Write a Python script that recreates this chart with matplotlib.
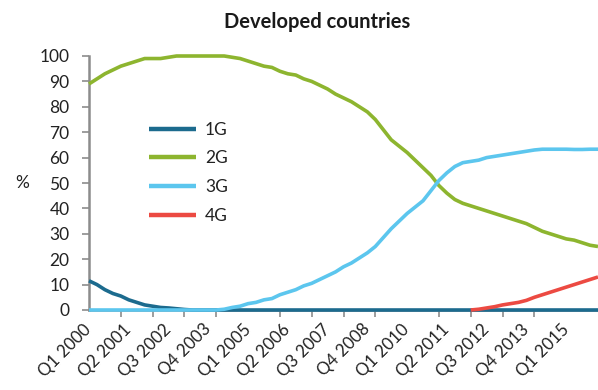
import numpy as np
import matplotlib
matplotlib.use("Agg")
import matplotlib.pyplot as plt
from matplotlib.transforms import ScaledTranslation

plt.rcParams['font.family'] = ['Lato', 'DejaVu Sans']

# Quarterly share of mobile subscriptions by technology, Q1 2000 .. Q1 2016
quarters = [f"Q{q} {y}" for y in range(2000, 2017) for q in range(1, 5)][:65]

g1 = [11.5, 10, 8, 6.5, 5.5, 4, 3, 2, 1.5, 1, 0.8, 0.5, 0.2, 0, 0, 0,
      0, 0, 0, 0, 0, 0, 0, 0, 0, 0, 0, 0, 0, 0, 0, 0,
      0, 0, 0, 0, 0, 0, 0, 0, 0, 0, 0, 0, 0, 0, 0, 0,
      0, 0, 0, 0, 0, 0, 0, 0, 0, 0, 0, 0, 0, 0, 0, 0, 0]

g2 = [89, 91, 93, 94.5, 96, 97, 98, 99, 99, 99, 99.5, 100, 100, 100, 100, 100,
      100, 100, 99.5, 99, 98, 97, 96, 95.5, 94, 93, 92.5, 91, 90, 88.5, 87, 85,
      83.5, 82, 80, 78, 75, 71, 67, 64.5, 62, 59, 56, 53, 49, 46, 43.5, 42,
      41, 40, 39, 38, 37, 36, 35, 34, 32.5, 31, 30, 29, 28, 27.5, 26.5, 25.5, 25]

g3 = [0, 0, 0, 0, 0, 0, 0, 0, 0, 0, 0, 0, 0, 0, 0, 0,
      0, 0.3, 1, 1.5, 2.5, 3, 4, 4.5, 6, 7, 8, 9.5, 10.5, 12, 13.5, 15,
      17, 18.5, 20.5, 22.5, 25, 28.5, 32, 35, 38, 40.5, 43, 47, 51, 54, 56.5, 58,
      58.5, 59, 60, 60.5, 61, 61.5, 62, 62.5, 63, 63.3, 63.3, 63.3, 63.3, 63.2, 63.2, 63.3, 63.3]

g4 = [np.nan] * 48 + [0, 0.3, 0.8, 1.3, 2, 2.5, 3, 3.8, 5, 6, 7, 8, 9, 10, 11, 12, 13]

series = [("1G", g1, "#1c6b8e"),
          ("2G", g2, "#8db52f"),
          ("3G", g3, "#5cc6ee"),
          ("4G", g4, "#ec4a42")]

fig = plt.figure(figsize=(5.98, 3.90), dpi=100)
ax = fig.add_axes([89 / 598, 1 - 310 / 390, 1 - 89 / 598, (310 - 56) / 390])

x = np.arange(len(quarters))
for name, vals, col in series:
    ax.plot(x, vals, color=col, lw=2.6, label=name, clip_on=False,
            solid_capstyle='butt', zorder=3)

ax.set_xlim(0, 64)
ax.set_ylim(0, 100)
ax.set_yticks(range(0, 101, 10))

# labels every 5 quarters, tick marks every 4 quarters
ax.set_xticks(x[::5][:13])
ax.set_xticklabels(quarters[::5][:13], rotation=45, ha='right',
                   rotation_mode='anchor', fontsize=12.2, color='#222222')
shift = ScaledTranslation(3 / 72, 0, fig.dpi_scale_trans)
for lbl in ax.get_xticklabels():
    lbl.set_va('center')
    lbl.set_transform(lbl.get_transform() + shift)
ax.set_xticks(np.arange(0, 64, 4), minor=True)
ax.tick_params(axis='x', which='major', length=0, pad=12)
ax.tick_params(axis='x', which='minor', length=5, width=1.2, color='#8c8c8c',
               direction='out')
ax.tick_params(axis='y', length=5, width=1.2, color='#8c8c8c', pad=9,
               labelsize=12.5, labelcolor='#222222')

for side in ('top', 'right'):
    ax.spines[side].set_visible(False)
for side in ('left', 'bottom'):
    ax.spines[side].set_color('#8c8c8c')
    ax.spines[side].set_linewidth(1.8)

fig.text(317 / 598, 1 - 22 / 390, "Developed countries", ha='center',
         va='center', fontsize=14.5, fontweight='bold', color='#1a1a1a')
fig.text(22 / 598, 1 - 183 / 390, "%", ha='center', va='center',
         fontsize=12.5, color='#222222')

leg = ax.legend(loc='upper left', bbox_to_anchor=(133 / 598, 1 - 106 / 390),
                bbox_transform=fig.transFigure, frameon=False, fontsize=12.5,
                handlelength=2.7, handletextpad=0.55, labelspacing=0.74)
for line in leg.get_lines():
    line.set_linewidth(3.2)
for t in leg.get_texts():
    t.set_color('#222222')

fig.savefig("out.png", dpi=100)
